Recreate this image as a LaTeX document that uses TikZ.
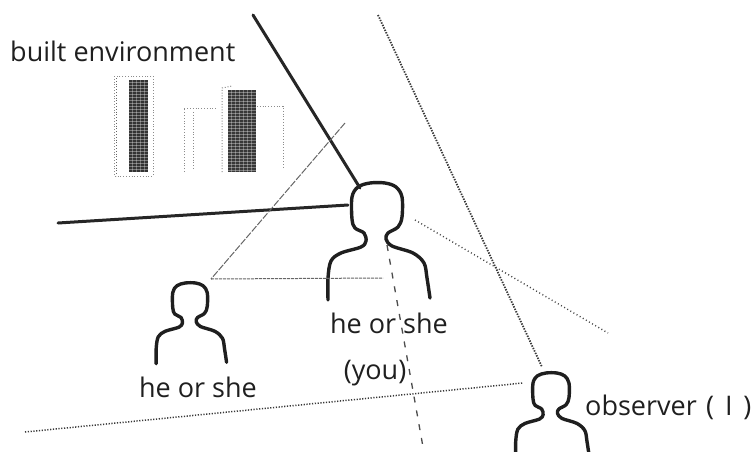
\documentclass[tikz,border=0pt]{standalone}
\usepackage{fontspec}
\setmainfont{Open Sans}
\begin{document}
\begin{tikzpicture}[x=1pt,y=-1pt,
  thickline/.style={line width=3pt, black!85, line cap=round},
  outline/.style={line width=3.4pt, black!88, line cap=round, line join=round},
  sightline/.style={line width=1.8pt, black!78, dash pattern=on 1.4pt off 1.3pt},
  dotline/.style={line width=1.4pt, black!72, dash pattern=on 1pt off 2.6pt},
  dashline/.style={line width=1.3pt, black!70, dash pattern=on 6pt off 8pt},
  thinline/.style={line width=1pt, black!60, dash pattern=on 7pt off 1.5pt},
  faint/.style={line width=1pt, black!45, dash pattern=on 1pt off 1.8pt},
  lbl/.style={font=\fontsize{27}{32}\selectfont, text=black!88, inner sep=0pt},
  person/.pic={
    \draw[outline] plot[smooth, tension=0.55] coordinates {
      (-49,117) (-49,95) (-46,78) (-36,70) (-16,64) (-11,58) (-13,50)
      (-22,45) (-25,36) (-25,14) (-19,4) (-7,0) (8,0) (19,4) (25,14)
      (25,34) (21,44) (11,50) (9,56) (15,63) (36,70) (47,80) (50,95) (53,115)};
  }
]
\useasboundingbox (0,0) rectangle (756,451);
\clip (0,0) rectangle (756,451);

% figures
\pic[scale=0.69] at (190,283) {person};
\pic at (377,183) {person};
\pic[scale=0.72] at (551,373) {person};

% anchor points of the lines
\coordinate (wallA) at (253,15);
\coordinate (youHead) at (360,188);
\coordinate (wallB) at (58,223);
\coordinate (youSide) at (348,205);
\coordinate (triTop) at (345,123);
\coordinate (triLeft) at (211,279);
\coordinate (triRight) at (383,278);
\coordinate (farTop) at (378,15);
\coordinate (obsHead) at (542,367);
\coordinate (crossA) at (415,220);
\coordinate (crossB) at (608,333);
\coordinate (youNeck) at (387,245);
\coordinate (youDown) at (423,447);
\coordinate (groundL) at (25,432);
\coordinate (obsSide) at (523,383);

% buildings
\draw[faint] (114,76) rectangle (153,176);
\draw[faint, black!60] (116,78) -- (116,176);
\fill[black!80] (129,80) rectangle (148,172);
\foreach \yy in {82,85,...,170} \draw[white, opacity=0.35, line width=0.4pt] (129,\yy) -- (148,\yy);
\foreach \xx in {132,136,...,146} \draw[white, opacity=0.3, line width=0.4pt] (\xx,80) -- (\xx,172);

\draw[faint] (184,172) -- (184,108) -- (217,108);
\draw[faint] (193,112) -- (193,170);
\draw[faint] (222,172) -- (222,88) -- (232,86);
\fill[black!78] (228,90) rectangle (256,172);
\foreach \yy in {92,95,...,170} \draw[white, opacity=0.35, line width=0.4pt] (228,\yy) -- (256,\yy);
\foreach \xx in {231,235,...,254} \draw[white, opacity=0.3, line width=0.4pt] (\xx,90) -- (\xx,172);
\draw[faint] (257,106) -- (283,106) -- (283,168);

% walls
\draw[thickline] (wallA) -- (youHead);
\draw[thickline] (wallB) -- (youSide);

% view triangle
\draw[thinline] (triTop) -- (triLeft);
\draw[thinline, dash pattern=on 3pt off 1pt] (triLeft) -- (triRight);

% sight lines
\draw[sightline] (farTop) -- (obsHead);
\draw[dotline] (crossA) -- (crossB);
\draw[dashline] (youNeck) -- (youDown);
\draw[sightline, dash pattern=on 1.2pt off 1.6pt, line width=1.5pt] (groundL) -- (obsSide);

% labels
\node[lbl, anchor=base west] (built) at (10,61) {built environment};
\node[lbl, anchor=base] (youName) at (389,333) {he or she};
\node[lbl, anchor=base] (youTag) at (375,379) {(you)};
\node[lbl, anchor=base] (otherName) at (198,397) {he or she};
\node[lbl, anchor=base west] (obsName) at (585,415) {observer\hspace{0.35em}(\hspace{0.4em}I\hspace{0.4em})};
\end{tikzpicture}
\end{document}
